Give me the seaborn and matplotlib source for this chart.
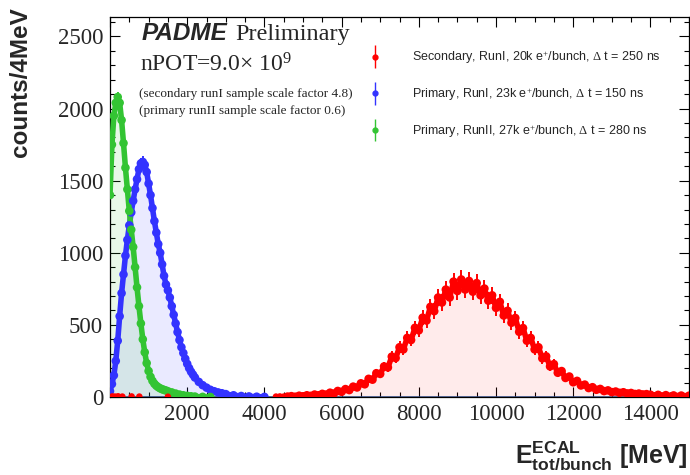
"""
PADME: energia total en el ECAL por bunch, tres muestras de datos.
Estilo ROOT: marcadores con barras de error y relleno claro debajo.
"""

import numpy as np
import matplotlib.pyplot as plt
import seaborn as sns
from matplotlib.ticker import MultipleLocator, FuncFormatter
from matplotlib.container import ErrorbarContainer
from matplotlib.legend_handler import HandlerErrorbar

# ---- datos (MeV, cuentas/4MeV) ----
green_e = [0, 50, 100, 150, 200, 250, 300, 350, 400, 450, 500, 550, 600, 650,
           700, 750, 800, 850, 900, 950, 1000, 1050, 1100, 1150, 1200, 1250,
           1300, 1350, 1400, 1450, 1500, 1600, 1700, 1800, 1900, 2000, 2100,
           2200, 2400, 2600]
green_counts = [1400, 1750, 1950, 2040, 2080, 2040, 1920, 1760, 1590, 1440,
                1290, 1160, 1040, 900, 760, 630, 510, 400, 310, 235, 180, 140,
                112, 92, 78, 68, 60, 54, 49, 45, 40, 32, 24, 17, 12, 8, 5, 3,
                1, 0]

blue_e = [0, 50, 100, 150, 200, 250, 300, 350, 400, 450, 500, 550, 600, 650,
          700, 750, 800, 850, 900, 950, 1000, 1050, 1100, 1150, 1200, 1250,
          1300, 1350, 1400, 1450, 1500, 1550, 1600, 1650, 1700, 1750, 1800,
          1850, 1900, 1950, 2000, 2050, 2100, 2150, 2200, 2300, 2400, 2500,
          2600, 2700, 2800, 2900, 3000, 3200, 3400, 3600, 3800, 4000]
blue_counts = [40, 90, 150, 250, 390, 560, 720, 850, 980, 1090, 1190, 1280,
               1360, 1440, 1510, 1580, 1620, 1630, 1610, 1560, 1480, 1400,
               1310, 1220, 1140, 1060, 1000, 920, 840, 780, 740, 690, 630,
               570, 510, 450, 395, 345, 305, 265, 230, 200, 175, 155, 135,
               105, 82, 65, 50, 40, 32, 26, 20, 12, 7, 4, 2, 1]

red_e = list(range(4600, 14001, 100)) + [14200, 14400, 14600, 14800, 15000]
red_counts = [3, 6, 2, 9, 5, 12, 8, 17, 12, 22, 17, 30, 24, 42, 36, 55, 48, 72,
              66, 95, 88, 126, 120, 165, 160, 212, 205, 280, 270, 345, 330,
              410, 395, 480, 462, 550, 530, 625, 595, 690, 655, 745, 690, 800,
              735, 815, 745, 805, 730, 790, 705, 752, 668, 705, 618, 660, 565,
              598, 515, 548, 452, 478, 390, 410, 330, 345, 268, 282, 212, 228,
              168, 180, 132, 142, 102, 112, 80, 86, 62, 68, 50, 56, 41, 46, 34,
              38, 29, 33, 25, 28, 21, 24, 18, 20, 16, 15, 13, 11, 10, 9]

# puntos aislados de la muestra secundaria a baja energia
red_low_e = [60, 130, 210, 320, 560, 760, 1500, 4300, 4400, 4500]
red_low_counts = [4, 3, 5, 3, 4, 3, 2, 3, 4, 3]

# factores de escala de cada muestra (para los errores de Poisson)
scale_red, scale_blue, scale_green = 4.8, 1.0, 0.6

labels = ["Secondary, RunI, 20k e$^{+}$/bunch, $\\Delta$ t = 250 ns",
          "Primary, RunI, 23k e$^{+}$/bunch, $\\Delta$ t = 150 ns",
          "Primary, RunII, 27k e$^{+}$/bunch, $\\Delta$ t = 280 ns"]
c_red, c_blue, c_green = "#ff0000", "#3333ff", "#33c433"


def dibujar_muestra(ax, e, counts, escala, color, fill_alpha):
    e = np.asarray(e, float)
    counts = np.asarray(counts, float)
    ax.fill_between(e, counts, color=color, alpha=fill_alpha, lw=0, zorder=1)
    ax.errorbar(e, counts, yerr=np.sqrt(escala * counts), fmt="none",
                ecolor=color, elinewidth=1.4, zorder=3)
    sns.lineplot(x=e, y=counts, color=color, lw=4.0, ax=ax, zorder=3)
    sns.scatterplot(x=e, y=counts, color=color, s=38, edgecolor="none",
                    legend=False, ax=ax, zorder=4)


def main():
    sns.set_theme(style="ticks")
    plt.rcParams["font.family"] = ["Liberation Serif", "DejaVu Serif"]
    plt.rcParams["mathtext.fontset"] = "custom"
    plt.rcParams["mathtext.rm"] = "Liberation Serif"
    plt.rcParams["mathtext.it"] = "Liberation Serif:italic"
    plt.rcParams["mathtext.bf"] = "Liberation Sans:bold"

    fig = plt.figure(figsize=(6.9, 4.75), dpi=100)
    ax = fig.add_axes([110 / 690, 78 / 475, 579 / 690, 380 / 475])

    dibujar_muestra(ax, red_e, red_counts, scale_red, c_red, 0.08)
    dibujar_muestra(ax, blue_e, blue_counts, scale_blue, c_blue, 0.10)
    dibujar_muestra(ax, green_e, green_counts, scale_green, c_green, 0.11)
    sns.scatterplot(x=red_low_e, y=red_low_counts, color=c_red, s=22,
                    edgecolor="none", legend=False, ax=ax, zorder=4)
    ax.axhline(0, color="#2f4f8f", lw=1.8, zorder=2)

    ax.set_xlim(0, 15000)
    ax.set_ylim(0, 2635)
    ax.xaxis.set_major_locator(MultipleLocator(2000))
    ax.xaxis.set_minor_locator(MultipleLocator(500))
    ax.xaxis.set_major_formatter(
        FuncFormatter(lambda v, p: "" if v == 0 else f"{v:.0f}"))
    ax.yaxis.set_major_locator(MultipleLocator(500))
    ax.yaxis.set_minor_locator(MultipleLocator(100))
    ax.tick_params(which="both", direction="in", top=True, right=True,
                   color="black", width=0.8, labelsize=16.5, pad=5)
    ax.tick_params(which="major", length=7)
    ax.tick_params(which="minor", length=3.5)
    for sp in ax.spines.values():
        sp.set_color("black")
        sp.set_linewidth(0.9)
    ax.set_xlabel("")
    ax.set_ylabel("")

    # leyenda con proxies de barras de error
    handles = []
    for c, lab in zip([c_red, c_blue, c_green], labels):
        h = ax.errorbar([np.nan], [np.nan], yerr=[np.nan], fmt="o", ms=3.5,
                        color=c, elinewidth=1.0, label=lab)
        handles.append(h)
    ax.legend(handles=handles, labels=labels, loc="upper left",
              bbox_to_anchor=(0.416, 0.945), frameon=False,
              prop={"family": "Liberation Sans", "size": 9},
              handlelength=2.0, handletextpad=1.96, labelspacing=1.6,
              handler_map={ErrorbarContainer: HandlerErrorbar(yerr_size=0.9)})

    # textos
    fig.text(141.7 / 690, 1 - 40 / 475, "PADME", family="Liberation Sans",
             weight="bold", style="italic", size=17.5, va="baseline")
    fig.text(235 / 690, 1 - 40 / 475, "Preliminary",
             family="Liberation Serif", size=17.5, va="baseline")
    fig.text(140 / 690, 1 - 72 / 475, "nPOT=9.0× 10$^{9}$",
             family="Liberation Serif", size=17, va="baseline")
    fig.text(139 / 690, 1 - 97 / 475,
             "(secondary runI sample scale factor 4.8)",
             family="Liberation Serif", size=9.5, va="baseline")
    fig.text(139 / 690, 1 - 114 / 475,
             "(primary runII sample scale factor 0.6)",
             family="Liberation Serif", size=9.5, va="baseline")

    fig.text(21 / 690, 1 - 7 / 475, "counts/4MeV", rotation=90,
             family="Liberation Sans", weight="bold", size=17.5,
             ha="center", va="top")
    fig.text(688 / 690, 1 - 463 / 475,
             r"$\mathbf{E^{ECAL}_{tot/bunch}}$ [MeV]",
             family="Liberation Sans", weight="bold", size=18,
             ha="right", va="baseline")

    fig.savefig("out.png", dpi=100)
    plt.close(fig)


if __name__ == "__main__":
    main()
